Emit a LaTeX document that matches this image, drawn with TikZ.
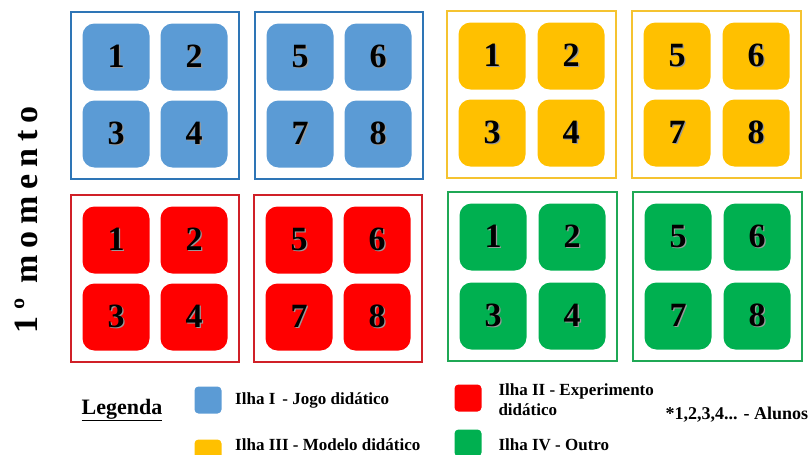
\documentclass[tikz,border=0pt]{standalone}
\usepackage{fontspec}
\usepackage{xcolor}
\setmainfont{Liberation Serif}
\newfontfamily\momentofont[LetterSpace=20]{Liberation Serif}
\usetikzlibrary{positioning, fit}

\definecolor{azul}{HTML}{5B9BD5}
\definecolor{azulborda}{HTML}{2E75B6}
\definecolor{amarelo}{HTML}{FFC000}
\definecolor{amareloborda}{HTML}{F5C330}
\definecolor{vermelho}{HTML}{FF0000}
\definecolor{vermelhoborda}{HTML}{D02028}
\definecolor{verde}{HTML}{00B050}
\definecolor{verdeborda}{HTML}{1FA855}

% digit with a soft shadow
\newcommand{\sombra}[1]{\makebox[0pt][l]{\hspace{1.3pt}\raisebox{-1.3pt}{\color{black!40}#1}}#1}

\begin{document}
\begin{tikzpicture}[
    x=1pt, y=-1pt,
    aluno/.style={rectangle, rounded corners=12pt, minimum size=67pt, inner sep=0pt, font=\fontsize{34}{34}\selectfont\bfseries},
    alunoazul/.style={aluno, fill=azul},
    alunoamarelo/.style={aluno, fill=amarelo},
    alunovermelho/.style={aluno, fill=vermelho},
    alunoverde/.style={aluno, fill=verde},
    ilha/.style={rectangle, draw, line width=2pt, inner sep=11.5pt},
    legchip/.style={rectangle, rounded corners=4pt, minimum size=27pt, inner sep=0pt},
    legtext/.style={anchor=west, font=\fontsize{17}{20}\selectfont\bfseries, align=left}
]
\useasboundingbox (0,0) rectangle (811,455);

% Side title
\node[rotate=90, font=\fontsize{34}{34}\selectfont\momentofont\bfseries] (momento) at (26,220) {1º momento};

% Ilha I: blue, students 1-4
\node[alunoazul] (a1) at (116,57) {\sombra{1}};
\node[alunoazul] (a2) at (194,57) {\sombra{2}};
\node[alunoazul] (a3) at (116,134) {\sombra{3}};
\node[alunoazul] (a4) at (194,134) {\sombra{4}};
\node[ilha, draw=azulborda, fit=(a1)(a2)(a3)(a4)] (ilhaA) {};

% Ilha I: blue, students 5-8
\node[alunoazul] (a5) at (300,57) {\sombra{5}};
\node[alunoazul] (a6) at (378,57) {\sombra{6}};
\node[alunoazul] (a7) at (300,134) {\sombra{7}};
\node[alunoazul] (a8) at (378,134) {\sombra{8}};
\node[ilha, draw=azulborda, fit=(a5)(a6)(a7)(a8)] (ilhaB) {};

% Ilha III: yellow, students 1-4
\node[alunoamarelo] (m1) at (492,56) {\sombra{1}};
\node[alunoamarelo] (m2) at (571,56) {\sombra{2}};
\node[alunoamarelo] (m3) at (492,133) {\sombra{3}};
\node[alunoamarelo] (m4) at (571,133) {\sombra{4}};
\node[ilha, draw=amareloborda, fit=(m1)(m2)(m3)(m4)] (ilhaC) {};

% Ilha III: yellow, students 5-8
\node[alunoamarelo] (m5) at (677,56) {\sombra{5}};
\node[alunoamarelo] (m6) at (756,56) {\sombra{6}};
\node[alunoamarelo] (m7) at (677,133) {\sombra{7}};
\node[alunoamarelo] (m8) at (756,133) {\sombra{8}};
\node[ilha, draw=amareloborda, fit=(m5)(m6)(m7)(m8)] (ilhaD) {};

% Ilha II: red, students 1-4
\node[alunovermelho] (e1) at (116,240) {\sombra{1}};
\node[alunovermelho] (e2) at (194,240) {\sombra{2}};
\node[alunovermelho] (e3) at (116,317) {\sombra{3}};
\node[alunovermelho] (e4) at (194,317) {\sombra{4}};
\node[ilha, draw=vermelhoborda, fit=(e1)(e2)(e3)(e4)] (ilhaE) {};

% Ilha II: red, students 5-8
\node[alunovermelho] (e5) at (299,240) {\sombra{5}};
\node[alunovermelho] (e6) at (377,240) {\sombra{6}};
\node[alunovermelho] (e7) at (299,317) {\sombra{7}};
\node[alunovermelho] (e8) at (377,317) {\sombra{8}};
\node[ilha, draw=vermelhoborda, fit=(e5)(e6)(e7)(e8)] (ilhaF) {};

% Ilha IV: green, students 1-4
\node[alunoverde] (o1) at (493,237) {\sombra{1}};
\node[alunoverde] (o2) at (572,237) {\sombra{2}};
\node[alunoverde] (o3) at (493,316) {\sombra{3}};
\node[alunoverde] (o4) at (572,316) {\sombra{4}};
\node[ilha, draw=verdeborda, fit=(o1)(o2)(o3)(o4)] (ilhaG) {};

% Ilha IV: green, students 5-8
\node[alunoverde] (o5) at (678,237) {\sombra{5}};
\node[alunoverde] (o6) at (757,237) {\sombra{6}};
\node[alunoverde] (o7) at (678,316) {\sombra{7}};
\node[alunoverde] (o8) at (757,316) {\sombra{8}};
\node[ilha, draw=verdeborda, fit=(o5)(o6)(o7)(o8)] (ilhaH) {};

% Legend
\node[font=\fontsize{22}{22}\selectfont\bfseries] (legenda) at (122,410) {\underline{Legenda}};

\node[legchip, fill=azul] (chipA) at (208,400) {};
\node[legtext, right=10pt of chipA] (txtA) {Ilha I\, - Jogo didático};
\node[legchip, fill=amarelo] (chipC) at (208,453) {};
\node[legtext, right=10pt of chipC.north east, anchor=north west, yshift=4pt] (txtC) {Ilha III - Modelo didático};

\node[legchip, fill=vermelho] (chipE) at (468,398) {};
\node[legtext, anchor=north west] (txtE) at (495,380) {Ilha II - Experimento\\didático};
\node[legchip, fill=verde] (chipG) at (468,443) {};
\node[legtext] (txtG) at (495,445) {Ilha IV - Outro};

\node[legtext, font=\fontsize{18}{20}\selectfont\bfseries] (alunos) at (662,415) {*1,2,3,4... - Alunos};

\end{tikzpicture}
\end{document}
